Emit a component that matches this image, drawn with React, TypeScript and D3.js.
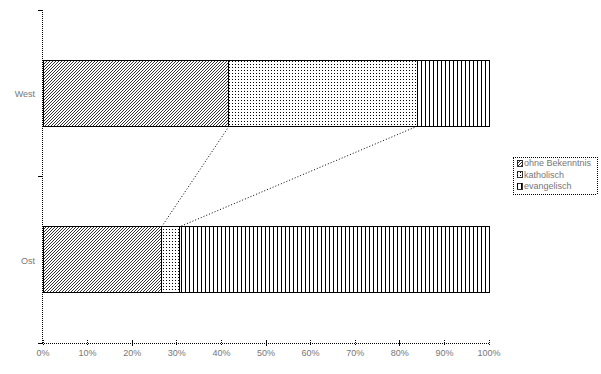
import React from "react";
import * as d3 from "d3";

const categories = ["West", "Ost"];
const seriesNames = ["ohne Bekenntnis", "katholisch", "evangelisch"];
const westValues = [41.7, 42.2, 16.1];
const ostValues = [26.6, 4.0, 69.4];
const xTicks = [0, 10, 20, 30, 40, 50, 60, 70, 80, 90, 100];

const patternIds = ["pHatch", "pDots", "pVert"];

export default function App() {
  const W = 601, H = 374;
  const x = d3.scaleLinear().domain([0, 100]).range([43, 489]);
  const y = d3.scalePoint<string>().domain(categories).range([10, 343]).padding(0.5);
  const barH = 66;
  const values = [westValues, ostValues];
  const stacks = values.map((vals) => {
    let acc = 0;
    return vals.map((v) => {
      const s = acc;
      acc += v;
      return [s, acc];
    });
  });
  const step = y.step();
  const yTickPos = [10, 10 + step, 343];
  const textColor = "#777";
  const font = "Arial, 'Liberation Sans', sans-serif";
  const westBottom = (y("West") as number) + barH / 2;
  const ostTop = (y("Ost") as number) - barH / 2;

  return (
    <svg width={W} height={H} style={{ position: "absolute", left: 0, top: 0 }} shapeRendering="crispEdges">
      <defs>
        <pattern id="pHatch" patternUnits="userSpaceOnUse" width={3} height={3}>
          <rect width={3} height={3} fill="#fff" />
          <path d="M0,3 L3,0 M-1,1 L1,-1 M2,4 L4,2" stroke="#000" strokeWidth={0.8} shapeRendering="auto" />
        </pattern>
        <pattern id="pDots" patternUnits="userSpaceOnUse" width={3} height={3}>
          <rect width={3} height={3} fill="#fff" />
          <rect x={1} y={1} width={1} height={1} fill="#000" />
        </pattern>
        <pattern id="pVert" patternUnits="userSpaceOnUse" width={4} height={4}>
          <rect width={4} height={4} fill="#fff" />
          <rect x={1} y={0} width={1} height={4} fill="#000" />
        </pattern>
      </defs>

      {/* bars */}
      {categories.map((c, ci) =>
        stacks[ci].map(([s, e], si) => (
          <rect
            key={c + si}
            x={x(s)}
            y={(y(c) as number) - barH / 2}
            width={x(e) - x(s)}
            height={barH}
            fill={`url(#${patternIds[si]})`}
            stroke="#000"
            strokeWidth={1}
          />
        ))
      )}

      {/* series lines */}
      {[0, 1].map((i) => (
        <line
          key={"sl" + i}
          x1={x(stacks[0][i][1])}
          y1={westBottom}
          x2={x(stacks[1][i][1])}
          y2={ostTop}
          stroke="#000"
          strokeWidth={1}
          strokeDasharray="1,2"
          shapeRendering="auto"
        />
      ))}

      {/* y axis */}
      <line x1={42} y1={10} x2={42} y2={343} stroke="#000" strokeDasharray="1,1" />
      {yTickPos.map((t, i) => (
        <line key={"yt" + i} x1={38} y1={t} x2={42} y2={t} stroke="#000" />
      ))}
      {categories.map((c) => (
        <text key={c} x={35} y={(y(c) as number) + 4} textAnchor="end" fontSize={9} fontFamily={font} fill={textColor}>
          {c}
        </text>
      ))}

      {/* x axis */}
      <line x1={42} y1={343} x2={489} y2={343} stroke="#000" strokeDasharray="1,1" />
      {xTicks.map((t) => (
        <g key={"xt" + t}>
          <line x1={x(t)} y1={340} x2={x(t)} y2={346} stroke="#000" strokeDasharray={t % 30 === 20 ? undefined : "1,1"} />
          <text x={x(t)} y={356} textAnchor="middle" fontSize={9} fontFamily={font} fill={textColor}>
            {t}%
          </text>
        </g>
      ))}

      {/* legend */}
      <rect x={513} y={157} width={84} height={37} fill="#fff" stroke="#000" strokeDasharray="1,1" />
      {seriesNames.map((n, i) => (
        <g key={n}>
          <rect x={517} y={160 + i * 11.5} width={5} height={6} fill={`url(#${patternIds[i]})`} stroke="#000" strokeWidth={0.8} />
          <text x={524} y={166 + i * 11.5} fontSize={9} fontFamily={font} fill={textColor}>
            {n}
          </text>
        </g>
      ))}
    </svg>
  );
}
